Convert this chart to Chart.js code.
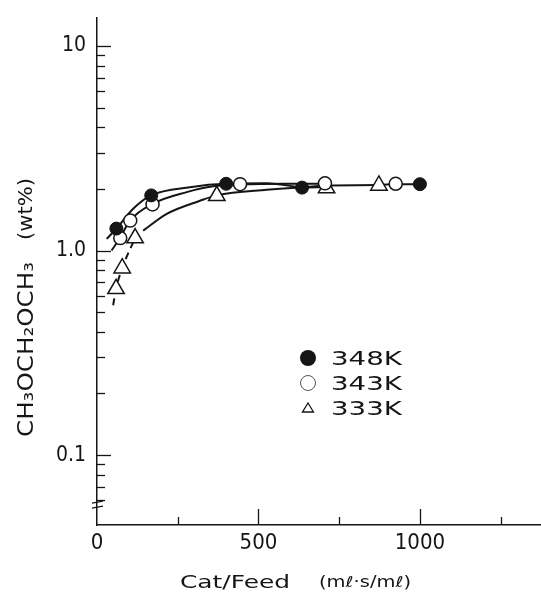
<!DOCTYPE html>
<html>
<head>
<meta charset="utf-8">
<script src="https://cdn.jsdelivr.net/npm/chart.js@4.4.0/dist/chart.umd.min.js"></script>
<style>
html,body{margin:0;padding:0;background:#fff;}
#wrap{width:541px;height:592px;position:relative;}
</style>
</head>
<body>
<div id="wrap"><canvas id="c" width="541" height="592"></canvas></div>
<script>
// ---------- data ----------
const seriesLabels = ['348K', '343K', '333K'];

const s348K_x = [60, 168, 400, 635, 1000];
const s348K_y = [1.28, 1.86, 2.12, 2.03, 2.11];

const s343K_x = [72, 103, 172, 443, 706, 925];
const s343K_y = [1.15, 1.40, 1.68, 2.11, 2.13, 2.12];

const s333K_x = [59, 78, 118, 371, 711, 873];
const s333K_y = [0.65, 0.82, 1.15, 1.85, 2.02, 2.08];

// hand-drawn fitted curves
const c348K_x = [30, 60, 112, 167, 288, 399, 525, 634];
const c348K_y = [1.14, 1.28, 1.60, 1.86, 2.04, 2.12, 2.13, 2.03];

const c343K_x = [45, 71, 102, 172, 278, 360, 443, 580, 706];
const c343K_y = [1.00, 1.15, 1.40, 1.69, 1.93, 2.06, 2.10, 2.12, 2.12];

const c333K_x = [143, 216, 319, 371, 525, 628, 711];
const c333K_y = [1.25, 1.51, 1.75, 1.86, 1.98, 2.03, 2.04];

const c333K_dash_x = [50, 59, 78, 118];
const c333K_dash_y = [0.54, 0.65, 0.82, 1.15];

const cTail_x = [634, 711, 873, 925, 1000];
const cTail_y = [2.03, 2.08, 2.09, 2.11, 2.11];

// axes
const xMin = 0, xMax = 1375;
const yMin = 0.0455, yMax = 13.7;
const xTickValues = [250, 500, 750, 1000, 1250];
const xTickLabels = {0: '0', 500: '500', 1000: '1000'};
const xLabelValues = [0, 500, 1000];
const yTickValues = [0.06, 0.07, 0.08, 0.09, 0.1, 0.2, 0.3, 0.4, 0.5, 0.6, 0.7, 0.8, 0.9,
                     1, 2, 3, 4, 5, 6, 7, 8, 9, 10];
const yTickLabels = {0.1: '0.1', 1: '1.0', 10: '10'};

const xTitle = 'Cat/Feed';
const xUnit = '(m\u2113\u00B7s/m\u2113)';
const yTitleMain = 'CH\u2083OCH\u2082OCH\u2083';
const yTitleUnit = '(wt%)';

// ---------- build ----------
const pts = (xs, ys) => xs.map((v, i) => ({x: v, y: ys[i]}));
const INK = '#151515';

const curveStyle = {
  showLine: true, pointRadius: 0, borderColor: INK, borderWidth: 2,
  cubicInterpolationMode: 'monotone', fill: false, order: 5
};

const datasets = [
  {label: seriesLabels[0], data: pts(s348K_x, s348K_y), pointStyle: 'circle', pointRadius: 6.5,
   backgroundColor: INK, borderColor: INK, borderWidth: 1, showLine: false, order: 0},
  {label: seriesLabels[1], data: pts(s343K_x, s343K_y), pointStyle: 'circle', pointRadius: 6.5,
   backgroundColor: '#fff', borderColor: INK, borderWidth: 1.5, showLine: false, order: 0},
  {label: seriesLabels[2], data: pts(s333K_x, s333K_y), pointStyle: 'triangle', pointRadius: 9.5,
   backgroundColor: '#fff', borderColor: INK, borderWidth: 1.5, showLine: false, order: 0},
  Object.assign({label: 'c348', data: pts(c348K_x, c348K_y)}, curveStyle),
  Object.assign({label: 'c343', data: pts(c343K_x, c343K_y)}, curveStyle),
  Object.assign({label: 'c333', data: pts(c333K_x, c333K_y)}, curveStyle),
  Object.assign({label: 'c333d', data: pts(c333K_dash_x, c333K_dash_y)}, curveStyle, {borderDash: [7, 5]}),
  Object.assign({label: 'tail', data: pts(cTail_x, cTail_y)}, curveStyle)
];

function fitText(ctx, text, x, y, width, font) {
  ctx.font = font;
  const w = ctx.measureText(text).width;
  ctx.save();
  ctx.translate(x, y);
  ctx.scale(width / w, 1);
  ctx.textAlign = 'left';
  ctx.textBaseline = 'alphabetic';
  ctx.fillText(text, 0, 0);
  ctx.restore();
}

const decor = {
  id: 'decor',
  afterDraw(chart) {
    const {ctx, chartArea: a, scales: {x, y}} = chart;
    ctx.save();
    ctx.strokeStyle = INK;
    ctx.fillStyle = INK;
    ctx.lineWidth = 1.3;
    const line = (x1, y1, x2, y2) => { ctx.beginPath(); ctx.moveTo(x1, y1); ctx.lineTo(x2, y2); ctx.stroke(); };
    // inward y ticks
    yTickValues.forEach(v => {
      const py = Math.round(y.getPixelForValue(v)) + 0.5;
      const len = yTickLabels[v] ? 14 : 8;
      line(a.left, py, a.left + len, py);
    });
    // inward x ticks
    xTickValues.forEach(v => {
      const px = Math.round(x.getPixelForValue(v)) + 0.5;
      const len = xTickLabels[v] ? 16 : 8;
      line(px, a.bottom, px, a.bottom - len);
    });
    // axis break mark
    const by = y.getPixelForValue(0.0575);
    ctx.lineWidth = 1.2;
    line(a.left - 5, by - 1, a.left + 6, by - 3);
    line(a.left - 5, by + 4, a.left + 6, by + 2);

    // axis titles
    ctx.fillStyle = INK;
    fitText(ctx, xTitle, 180, 588, 110, '18px "DejaVu Sans"');
    fitText(ctx, xUnit, 319, 587, 92, '15px "DejaVu Sans"');

    ctx.save();
    ctx.translate(33, 437);
    ctx.rotate(-Math.PI / 2);
    fitText(ctx, yTitleMain, 0, 0, 175, '22px "DejaVu Sans"');
    fitText(ctx, yTitleUnit, 197, -1, 62, '20px "DejaVu Sans"');
    ctx.restore();

    // legend
    const lx = 308, ly = [358, 383, 408];
    ctx.beginPath(); ctx.arc(lx, ly[0], 8, 0, Math.PI * 2); ctx.fill();
    ctx.lineWidth = 1; ctx.strokeStyle = '#555';
    ctx.beginPath(); ctx.arc(lx, ly[1], 7.5, 0, Math.PI * 2); ctx.stroke();
    ctx.strokeStyle = INK; ctx.lineWidth = 1.3;
    ctx.beginPath();
    ctx.moveTo(lx, ly[2] - 5); ctx.lineTo(lx + 5.5, ly[2] + 4); ctx.lineTo(lx - 5.5, ly[2] + 4); ctx.closePath(); ctx.stroke();
    seriesLabels.forEach((t, i) => fitText(ctx, t, 331, ly[i] + 7, 71, '19px "DejaVu Sans"'));
    ctx.restore();
  }
};

new Chart(document.getElementById('c'), {
  type: 'scatter',
  data: {datasets},
  options: {
    responsive: false,
    animation: false,
    devicePixelRatio: 1,
    layout: {autoPadding: false, padding: {top: 18, right: 0, left: 0, bottom: 0}},
    plugins: {legend: {display: false}, tooltip: {enabled: false}},
    scales: {
      x: {
        type: 'linear', min: xMin, max: xMax,
        grid: {display: false, drawTicks: false},
        border: {display: true, color: INK, width: 1.5},
        afterBuildTicks: s => { s.ticks = xLabelValues.map(v => ({value: v})); },
        afterFit: s => { s.height = 67; s.paddingLeft = 0; s.paddingRight = 0; },
        ticks: {
          autoSkip: false, maxRotation: 0, padding: 5, color: INK,
          font: {family: '"Liberation Sans Narrow", "DejaVu Sans Condensed", "Liberation Sans", sans-serif', size: 22},
          callback: v => xTickLabels[v] ?? ''
        }
      },
      y: {
        type: 'logarithmic', min: yMin, max: yMax,
        grid: {display: false, drawTicks: false},
        border: {display: true, color: INK, width: 1.5},
        afterBuildTicks: s => { s.ticks = yTickValues.map(v => ({value: v})); },
        afterFit: s => { s.width = 97; s.paddingTop = 0; s.paddingBottom = 0; },
        ticks: {
          autoSkip: false, padding: 11, color: INK,
          font: {family: '"Liberation Sans Narrow", "DejaVu Sans Condensed", "Liberation Sans", sans-serif', size: 21},
          callback: v => yTickLabels[v] ?? ''
        }
      }
    }
  },
  plugins: [decor]
});
</script>
</body>
</html>
